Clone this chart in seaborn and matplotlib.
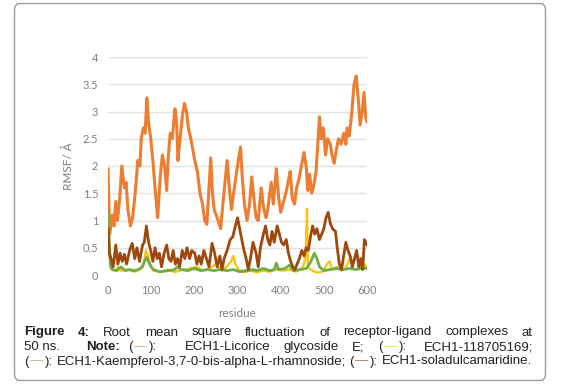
import numpy as np
import pandas as pd
import matplotlib
matplotlib.use('Agg')
import matplotlib.pyplot as plt
import seaborn as sns
from matplotlib.patches import FancyBboxPatch
from matplotlib.transforms import IdentityTransform

sns.set_theme(style='white')
plt.rcParams['font.family'] = ['Lato', 'DejaVu Sans']

# ---- data (residue, RMSF in Å) ----
licorice_res = [0, 4, 10, 14, 18, 22, 27, 32, 38, 42, 46, 52, 57, 63, 69, 74, 77, 82, 86, 90,
                94, 99, 105, 110, 115, 121, 126, 131, 136, 139, 144, 149, 155, 159, 162, 167,
                172, 177, 182, 186, 192, 201, 207, 213, 219, 224, 229, 234, 238, 242, 246, 255,
                261, 266, 271, 276, 281, 286, 291, 298, 307, 311, 316, 322, 328, 333, 338, 343,
                348, 355, 360, 366, 370, 378, 383, 390, 395, 400, 405, 412, 417, 422, 427, 432,
                437, 442, 448, 454, 459, 463, 467, 472, 477, 482, 490, 494, 499, 504, 509, 515,
                519, 524, 529, 534, 540, 546, 551, 554, 559, 565, 570, 575, 580, 584, 589, 593,
                597, 600]
licorice_rmsf = [1.95, 0.75, 1.1, 0.9, 1.35, 1.0, 1.4, 2.0, 1.6, 1.7, 1.2, 0.9, 1.05, 1.5, 2.1,
                 2.0, 2.5, 2.7, 2.6, 3.25, 2.8, 2.5, 2.0, 1.5, 1.05, 1.8, 2.2, 2.0, 1.55, 2.1,
                 2.6, 2.5, 3.05, 2.8, 2.1, 2.5, 2.9, 3.15, 3.0, 2.7, 2.5, 2.1, 1.9, 1.5, 1.3,
                 1.0, 0.93, 1.6, 2.15, 1.5, 1.2, 1.0, 0.85, 1.3, 1.7, 2.1, 1.6, 1.2, 1.5, 1.9,
                 2.35, 1.8, 1.3, 1.0, 1.3, 1.8, 1.4, 1.05, 1.0, 1.6, 1.25, 1.05, 1.2, 1.7, 1.3,
                 1.95, 1.45, 1.15, 1.3, 1.5, 1.7, 1.9, 1.4, 1.3, 1.6, 1.75, 2.0, 2.25, 2.0, 1.55,
                 1.85, 1.5, 1.65, 1.9, 2.9, 2.5, 2.7, 2.2, 2.5, 2.4, 2.2, 2.05, 2.3, 2.5, 2.4,
                 2.6, 2.4, 2.7, 2.55, 3.0, 3.5, 3.65, 3.2, 2.75, 3.0, 3.35, 2.9, 2.8]

c118_res = [0, 4, 8, 15, 25, 30, 45, 60, 75, 82, 88, 93, 98, 105, 120, 140, 155, 165, 175, 190,
            205, 220, 235, 250, 262, 275, 285, 290, 295, 302, 315, 330, 345, 360, 375, 390, 405,
            420, 435, 445, 452, 458, 461, 463, 470, 480, 492, 500, 507, 513, 520, 530, 540, 550,
            560, 566, 572, 578, 585, 592, 600]
c118_rmsf = [0.5, 0.3, 0.1, 0.08, 0.15, 0.08, 0.1, 0.06, 0.1, 0.2, 0.45, 0.35, 0.2, 0.08, 0.05,
             0.1, 0.05, 0.08, 0.1, 0.12, 0.15, 0.08, 0.12, 0.2, 0.08, 0.15, 0.25, 0.35, 0.2, 0.1,
             0.05, 0.08, 0.05, 0.08, 0.06, 0.1, 0.08, 0.1, 0.06, 0.1, 0.15, 0.35, 1.22, 0.15,
             0.1, 0.05, 0.05, 0.08, 0.2, 0.25, 0.1, 0.15, 0.08, 0.12, 0.3, 0.2, 0.3, 0.35, 0.15,
             0.2, 0.15]

kaempferol_res = [0, 3, 6, 10, 20, 30, 40, 50, 60, 70, 80, 86, 90, 95, 100, 105, 120, 140, 155,
                  160, 170, 185, 200, 215, 230, 245, 260, 275, 290, 305, 320, 335, 345, 360,
                  375, 385, 390, 395, 410, 420, 430, 445, 460, 470, 478, 484, 490, 500, 515,
                  530, 545, 560, 575, 590, 600]
kaempferol_rmsf = [1.15, 0.6, 0.15, 0.1, 0.08, 0.15, 0.08, 0.1, 0.08, 0.1, 0.15, 0.28, 0.32,
                   0.22, 0.15, 0.1, 0.06, 0.08, 0.1, 0.15, 0.1, 0.08, 0.12, 0.08, 0.1, 0.08,
                   0.1, 0.08, 0.1, 0.06, 0.08, 0.1, 0.08, 0.12, 0.08, 0.1, 0.22, 0.1, 0.12,
                   0.18, 0.08, 0.1, 0.12, 0.25, 0.4, 0.3, 0.15, 0.08, 0.1, 0.12, 0.1, 0.12, 0.1,
                   0.13, 0.12]

solad_res = [0, 3, 7, 12, 18, 23, 28, 33, 38, 43, 50, 56, 62, 67, 73, 80, 84, 89, 94, 99, 104,
             109, 114, 119, 124, 130, 136, 141, 146, 151, 156, 161, 166, 172, 178, 183, 189,
             194, 201, 206, 211, 216, 222, 228, 234, 241, 247, 253, 259, 264, 269, 276, 283,
             289, 295, 300, 305, 310, 315, 320, 325, 330, 336, 343, 348, 353, 360, 365, 370,
             375, 380, 385, 392, 397, 402, 407, 413, 418, 423, 428, 433, 438, 443, 449, 454,
             459, 464, 469, 474, 479, 484, 490, 495, 500, 505, 510, 515, 520, 527, 531, 536,
             541, 546, 551, 556, 561, 566, 571, 576, 581, 586, 590, 594, 600]
solad_rmsf = [0.85, 0.4, 0.3, 0.15, 0.55, 0.2, 0.4, 0.25, 0.38, 0.2, 0.45, 0.58, 0.3, 0.5, 0.25,
              0.55, 0.6, 0.9, 0.6, 0.45, 0.25, 0.5, 0.3, 0.4, 0.15, 0.4, 0.55, 0.3, 0.25, 0.45,
              0.2, 0.3, 0.15, 0.45, 0.3, 0.5, 0.3, 0.45, 0.4, 0.2, 0.35, 0.2, 0.45, 0.3, 0.15,
              0.58, 0.4, 0.15, 0.35, 0.1, 0.3, 0.45, 0.65, 0.7, 0.9, 1.05, 0.85, 0.65, 0.45, 0.3,
              0.1, 0.3, 0.6, 0.4, 0.15, 0.5, 0.75, 0.9, 0.65, 0.55, 0.8, 0.6, 0.9, 0.75, 0.6,
              0.55, 0.65, 0.4, 0.25, 0.15, 0.1, 0.2, 0.3, 0.45, 0.35, 0.5, 0.45, 0.7, 0.9, 0.75,
              0.85, 0.65, 0.75, 0.85, 1.05, 1.15, 0.95, 0.85, 0.8, 0.5, 0.2, 0.1, 0.35, 0.6,
              0.45, 0.35, 0.15, 0.3, 0.45, 0.15, 0.3, 0.1, 0.65, 0.55]

series = [
    ('ECH1-Licorice glycoside E', licorice_res, licorice_rmsf, '#ED7D31', 2.2),
    ('ECH1-118705169', c118_res, c118_rmsf, '#FFC000', 1.6),
    ('ECH1-Kaempferol-3,7-0-bis-alpha-L-rhamnoside', kaempferol_res, kaempferol_rmsf, '#70AD47', 2.0),
    ('ECH1-soladulcamaridine', solad_res, solad_rmsf, '#9E480E', 2.0),
]

W, H = 566, 385
fig = plt.figure(figsize=(W / 100, H / 100), dpi=100)
ax = fig.add_axes([108 / W, 1 - 275 / H, (367 - 108) / W, (275 - 57) / H])

for name, res, rmsf, color, lw in series:
    d = pd.DataFrame({'residue': res, 'rmsf': rmsf})
    sns.lineplot(data=d, x='residue', y='rmsf', ax=ax, color=color, linewidth=lw,
                 estimator=None, sort=False, zorder=3)

ax.set_xlim(0, 600)
ax.set_ylim(0, 4)
ax.set_xticks(np.arange(0, 601, 100))
yt = np.arange(0, 4.01, 0.5)
ax.set_yticks(yt)
ax.set_yticklabels([f'{v:g}' for v in yt])
ax.grid(axis='y', color='#E2E2E2', linewidth=1.0)
ax.grid(axis='x', visible=False)
ax.set_axisbelow(True)
for s in ax.spines.values():
    s.set_visible(False)
ax.tick_params(axis='both', length=0, colors='#7F7F7F', labelsize=8)
ax.tick_params(axis='y', pad=7)
ax.tick_params(axis='x', pad=7)
ax.set_xlabel('residue', color='#7F7F7F', fontsize=8.5, labelpad=9)
ax.set_ylabel('RMSF/ Å', color='#7F7F7F', fontsize=8.5, labelpad=6)

# rounded frame around figure + caption
box = FancyBboxPatch((14.5, H - 380.5), 531, 377, boxstyle='round,pad=0,rounding_size=6',
                     transform=IdentityTransform(), fc='none', ec='#9A9A9A', lw=1.0)
fig.add_artist(box)

# ---- justified caption ----
renderer = fig.canvas.get_renderer()
CAP_FONT = 'Liberation Sans'
CAP_SIZE = 9.5
INK = '#231F20'


def width_of(txt, weight):
    t = fig.text(0, 0, txt, fontsize=CAP_SIZE, family=CAP_FONT, weight=weight)
    w = t.get_window_extent(renderer).width
    t.remove()
    return w


def token_width(tok):
    return sum(width_of(r[0], r[1]) + r[3] for r in tok)


def draw_token(tok, x, base):
    for txt, weight, color, pad in tok:
        x += pad / 2
        fig.text(x / W, 1 - base / H, txt, fontsize=CAP_SIZE, family=CAP_FONT,
                 weight=weight, color=color, va='baseline', ha='left')
        x += width_of(txt, weight) + pad / 2
    return x


def word(t, weight='normal'):
    return [(t, weight, INK, 0)]


def dash(color):
    return [('(', 'normal', INK, 0), ('\u2014', 'normal', color, 3), ('):', 'normal', INK, 0)]


def draw_line(tokens, base, x0, x1=None, weights=None):
    widths = [token_width(t) for t in tokens]
    n = len(tokens)
    if weights is None:
        weights = [1] * (n - 1)
    if x1 is None:
        gap_unit = width_of('a a', 'normal') - width_of('aa', 'normal')
        gaps = [gap_unit] * (n - 1)
    else:
        free = (x1 - x0) - sum(widths)
        gaps = [free * w / sum(weights) for w in weights]
    x = x0
    for i, tok in enumerate(tokens):
        draw_token(tok, x, base)
        x += widths[i]
        if i < n - 1:
            x += gaps[i]


line1 = [word('Figure', 'bold'), word('4:', 'bold')] + [word(w) for w in
         ['Root', 'mean', 'square', 'fluctuation', 'of', 'receptor-ligand', 'complexes', 'at']]
line2 = [word('50 ns.'), word('Note:', 'bold'), dash('#F4A57E'), word('ECH1-Licorice'),
         word('glycoside'), word('E;'), dash('#FFD45C'), word('ECH1-118705169;')]
line3 = [dash('#A3CC8A'), word('ECH1-Kaempferol-3,7-0-bis-alpha-L-rhamnoside;'),
         dash('#B9744E'), word('ECH1-soladulcamaridine.')]

draw_line(line1, 335.5, 24, 533)
draw_line(line2, 350, 24, 533, weights=[2, 0.6, 2.2, 1, 1, 1, 1.3])
draw_line(line3, 364.5, 24)

fig.savefig('out.png', dpi=100)
